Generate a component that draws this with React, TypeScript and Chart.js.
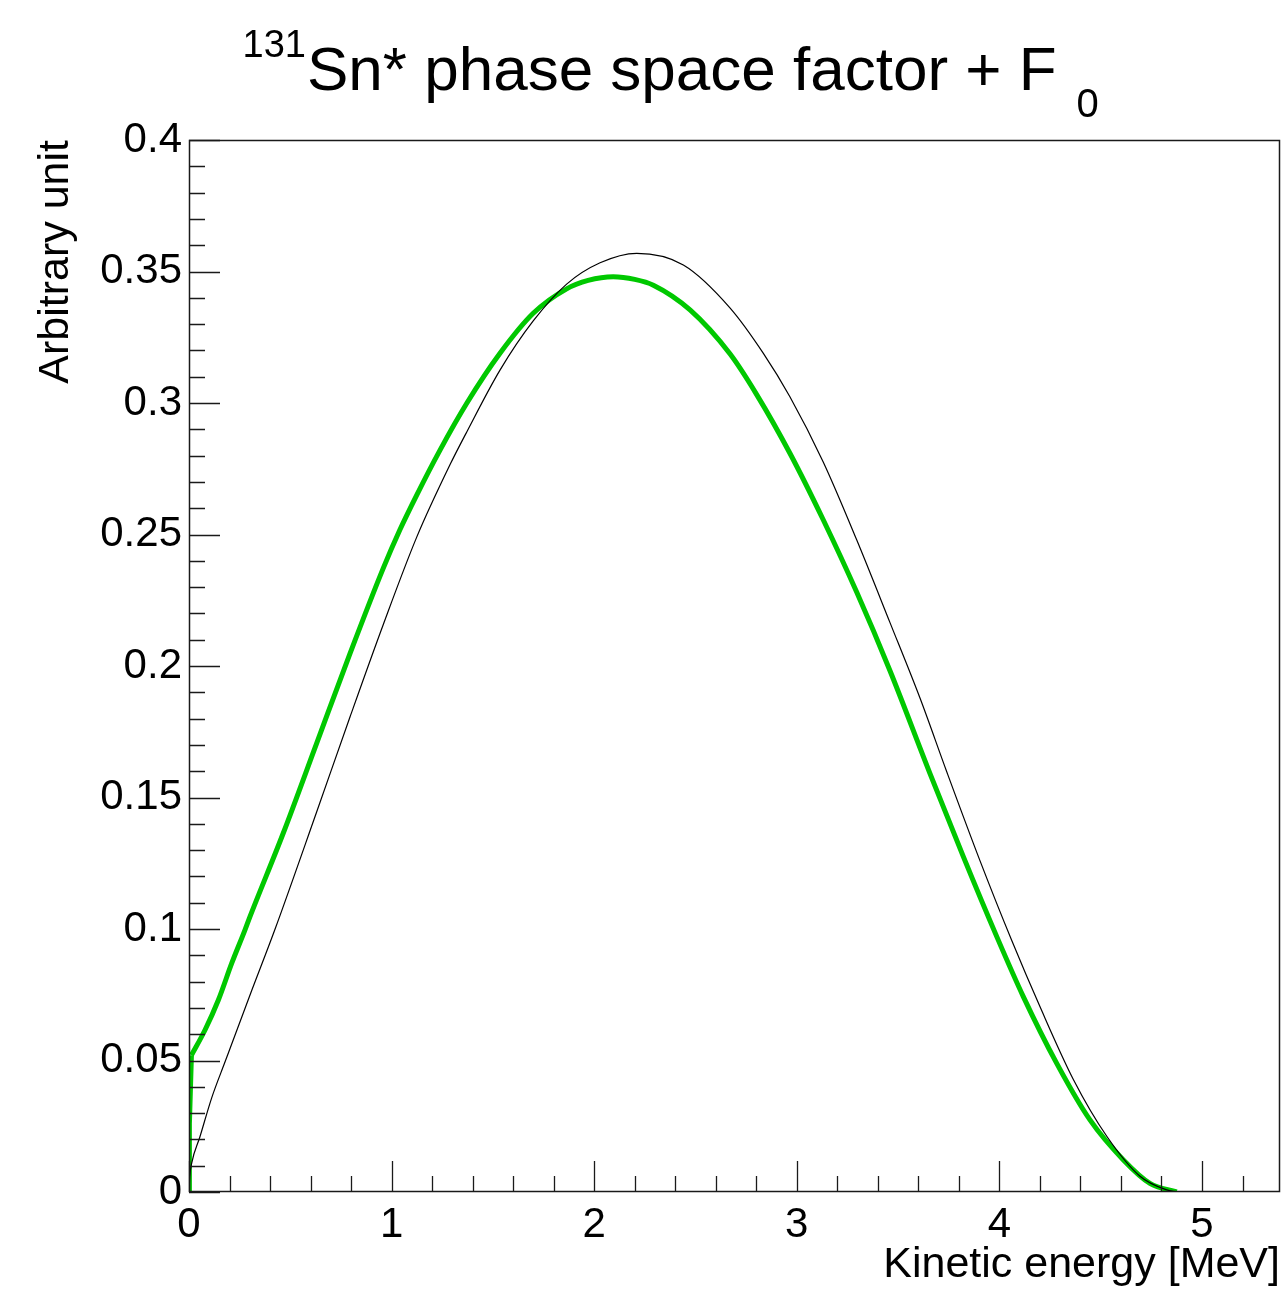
import React, { useEffect, useRef } from "react";
import { Chart, registerables } from "chart.js";

Chart.register(...registerables);

// Phase space factor + F0 (green, thick): steep start at E = 0
const greenStartEnergy = [0, 0.002, 0.012];
const greenStartValue = [0, 0.026, 0.052];

// Phase space factor + F0 (green, thick): main body
const greenEnergy = [0.012, 0.079, 0.145, 0.211, 0.276, 0.301, 0.465, 0.63, 0.795, 0.959, 1.041, 1.124, 1.239, 1.371, 1.535, 1.699, 1.864, 1.97, 2.094, 2.2, 2.292, 2.473, 2.67, 2.802, 2.966, 3.131, 3.296, 3.46, 3.657, 3.822, 3.987, 4.118, 4.283, 4.447, 4.612, 4.743, 4.875];
const greenValue = [0.052, 0.0616, 0.073, 0.087, 0.0996, 0.1047, 0.1364, 0.1706, 0.2048, 0.2372, 0.2518, 0.265, 0.2821, 0.2999, 0.3189, 0.3341, 0.3434, 0.3466, 0.348, 0.347, 0.3448, 0.3354, 0.3187, 0.3032, 0.2809, 0.2555, 0.228, 0.1982, 0.1592, 0.1275, 0.0971, 0.0743, 0.0489, 0.0274, 0.0122, 0.0033, 0];

// Phase space factor only (black, thin)
const blackEnergy = [0, 0.004, 0.013, 0.054, 0.112, 0.178, 0.309, 0.424, 0.63, 0.795, 0.959, 1.124, 1.288, 1.371, 1.535, 1.699, 1.864, 2.029, 2.21, 2.44, 2.67, 2.835, 2.966, 3.131, 3.296, 3.46, 3.608, 3.74, 3.904, 4.06, 4.2, 4.365, 4.53, 4.694, 4.826, 4.875];
const blackValue = [0, 0.006, 0.0109, 0.021, 0.0358, 0.0495, 0.0765, 0.0998, 0.1445, 0.1807, 0.2158, 0.249, 0.2765, 0.289, 0.3125, 0.3312, 0.3452, 0.3533, 0.3569, 0.3525, 0.3362, 0.3189, 0.3024, 0.2775, 0.2479, 0.2165, 0.1878, 0.1598, 0.126, 0.0958, 0.0705, 0.0428, 0.0212, 0.006, 0.0008, 0];

const xTickLabels = ["0", "1", "2", "3", "4", "5"];
const yTickLabels = ["0", "0.05", "0.1", "0.15", "0.2", "0.25", "0.3", "0.35", "0.4"];

const X_MIN = 0;
const X_MAX = 5.385;
const Y_MIN = 0;
const Y_MAX = 0.4;

const FONT = "'Liberation Sans', Arial, Helvetica, sans-serif";
const GREEN = "#00c800";

const rootStyle = {
  id: "rootStyle",
  afterDatasetsDraw(chart: any) {
    const { ctx, chartArea: a, scales } = chart;
    const x = scales.x;
    const y = scales.y;
    ctx.save();
    ctx.strokeStyle = "#1a1a1a";
    ctx.lineWidth = 1.3;
    ctx.beginPath();
    for (let i = 0; i <= 40; i++) {
      const p = Math.round(y.getPixelForValue(i * 0.01)) + 0.5;
      const len = i % 5 === 0 ? 31 : 16;
      ctx.moveTo(a.left, p);
      ctx.lineTo(a.left + len, p);
    }
    for (let i = 0; i * 0.2 <= X_MAX + 1e-9; i++) {
      const p = Math.round(x.getPixelForValue(i * 0.2)) + 0.5;
      const len = i % 5 === 0 ? 31 : 16;
      ctx.moveTo(p, a.bottom);
      ctx.lineTo(p, a.bottom - len);
    }
    ctx.stroke();
    ctx.lineWidth = 1.5;
    ctx.strokeRect(a.left + 0.5, a.top + 0.5, a.right - a.left - 1, a.bottom - a.top - 1);
    ctx.restore();
  },
  afterDraw(chart: any) {
    const { ctx } = chart;
    ctx.save();
    ctx.fillStyle = "#000";
    ctx.textBaseline = "alphabetic";
    ctx.textAlign = "left";
    ctx.font = `62px ${FONT}`;
    const main = "Sn* phase space factor + F";
    const mainX = 307;
    ctx.fillText(main, mainX, 90);
    const w = ctx.measureText(main).width;
    ctx.font = `38px ${FONT}`;
    ctx.textAlign = "right";
    ctx.fillText("131", mainX - 1, 57);
    ctx.textAlign = "left";
    ctx.font = `40px ${FONT}`;
    ctx.fillText("0", mainX + w + 20, 117);
    ctx.restore();
  },
};

export default function App() {
  const canvasRef = useRef<HTMLCanvasElement | null>(null);

  useEffect(() => {
    const canvas = canvasRef.current;
    if (!canvas) return;
    const chart = new Chart(canvas, {
      type: "scatter",
      data: {
        datasets: [
          {
            label: "Phase space factor",
            data: blackEnergy.map((e, i) => ({ x: e, y: blackValue[i] })),
            showLine: true,
            borderColor: "#000000",
            borderWidth: 1.2,
            pointRadius: 0,
            cubicInterpolationMode: "monotone",
            fill: false,
          },
          {
            label: "Phase space factor + F0 (start)",
            data: greenStartEnergy.map((e, i) => ({ x: e, y: greenStartValue[i] })),
            showLine: true,
            borderColor: GREEN,
            borderWidth: 5,
            pointRadius: 0,
            tension: 0,
            fill: false,
          },
          {
            label: "Phase space factor + F0",
            data: greenEnergy.map((e, i) => ({ x: e, y: greenValue[i] })),
            showLine: true,
            borderColor: GREEN,
            borderWidth: 5,
            pointRadius: 0,
            cubicInterpolationMode: "monotone",
            fill: false,
          },
        ],
      },
      options: {
        responsive: false,
        animation: false,
        events: [],
        layout: { padding: { left: 0, top: 140, right: 5, bottom: 0 } },
        plugins: {
          legend: { display: false },
          tooltip: { enabled: false },
          title: { display: false },
        },
        scales: {
          x: {
            type: "linear",
            position: "bottom",
            min: X_MIN,
            max: X_MAX,
            grid: { display: false, drawTicks: false },
            border: { display: false },
            ticks: {
              stepSize: 1,
              includeBounds: false,
              autoSkip: false,
              maxRotation: 0,
              padding: 8,
              color: "#000",
              font: { family: FONT, size: 42 },
              callback: (v: any) => {
                const idx = Math.round(Number(v));
                return Math.abs(Number(v) - idx) < 1e-6 && idx >= 0 && idx < xTickLabels.length ? xTickLabels[idx] : "";
              },
            },
            title: {
              display: true,
              text: "Kinetic energy [MeV]",
              align: "end",
              color: "#000",
              font: { family: FONT, size: 43 },
              padding: { top: 0, bottom: 6 },
            },
            afterFit: (s: any) => {
              s.height = 105;
            },
          },
          y: {
            type: "linear",
            position: "left",
            min: Y_MIN,
            max: Y_MAX,
            grid: { display: false, drawTicks: false },
            border: { display: false },
            ticks: {
              stepSize: 0.05,
              autoSkip: false,
              padding: 7,
              color: "#000",
              font: { family: FONT, size: 42 },
              callback: (v: any) => {
                const idx = Math.round(Number(v) / 0.05);
                return idx >= 0 && idx < yTickLabels.length ? yTickLabels[idx] : "";
              },
            },
            title: {
              display: true,
              text: "Arbitrary unit",
              align: "end",
              color: "#000",
              font: { family: FONT, size: 43 },
              padding: { top: 30, bottom: 0 },
            },
            afterFit: (s: any) => {
              s.width = 189;
            },
          },
        },
      },
      plugins: [rootStyle],
    } as any);
    return () => chart.destroy();
  }, []);

  return (
    <div style={{ position: "absolute", left: 0, top: 0, width: 1285, height: 1297, background: "#fff" }}>
      <canvas ref={canvasRef} width={1285} height={1297} style={{ display: "block", width: 1285, height: 1297 }} />
    </div>
  );
}
